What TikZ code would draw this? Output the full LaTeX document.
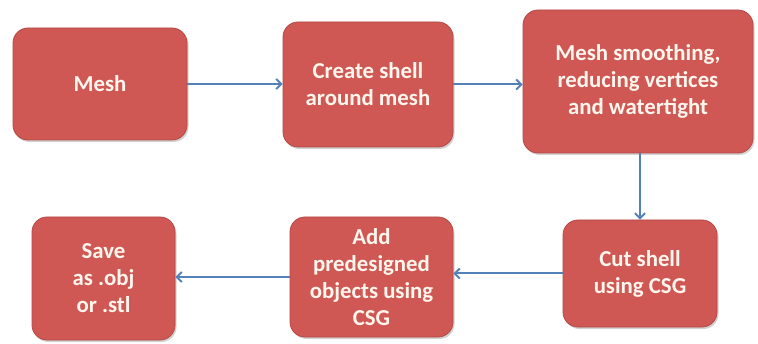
\documentclass[tikz,border=0pt]{standalone}
\usepackage{fontspec}
\setmainfont{Carlito}
\usetikzlibrary{arrows.meta,shadows}
\definecolor{boxfill}{RGB}{208,88,84}
\definecolor{boxedge}{RGB}{180,72,70}
\definecolor{arrowc}{RGB}{84,130,184}
\definecolor{txt}{RGB}{255,246,238}
\tikzset{
  stepbox/.style={draw=boxedge, line width=0.8pt, fill=boxfill, rounded corners=15pt,
    align=center, text=txt, font=\fontsize{22.8}{27}\selectfont\bfseries,
    inner sep=0pt, drop shadow={shadow xshift=1.5pt, shadow yshift=-2pt, opacity=0.35}},
  flow/.style={draw=arrowc, line width=2pt, -{Straight Barb[length=5pt,width=10pt]}}
}
\begin{document}
\begin{tikzpicture}[x=1pt,y=1pt]
\useasboundingbox[fill=white] (0,0) rectangle (758,343);
\node[stepbox, minimum width=174pt, minimum height=112pt] (mesh) at (100,259) {Mesh};
\node[stepbox, minimum width=170pt, minimum height=125pt] (create) at (368,258.5) {Create shell\\around mesh};
\node[stepbox, minimum width=230pt, minimum height=143pt] (smooth) at (638,261.5) {Mesh smoothing,\\reducing vertices\\and watertight};
\node[stepbox, minimum width=154pt, minimum height=107pt] (cut) at (640,69.5) {Cut shell\\using CSG};
\node[stepbox, minimum width=163pt, minimum height=120pt] (add) at (371.5,66) {Add\\predesigned\\objects using\\CSG};
\node[stepbox, minimum width=143pt, minimum height=123pt] (save) at (103.5,64.5) {Save\\as .obj\\or .stl};
\draw[flow] (mesh.east) -- (mesh.east -| create.west);
\draw[flow] (create.east) -- (create.east -| smooth.west);
\draw[flow] (cut.north |- smooth.south) -- (cut.north);
\draw[flow] (cut.west) -- (cut.west -| add.east);
\draw[flow] (add.west) -- (add.west -| save.east);
\end{tikzpicture}
\end{document}
